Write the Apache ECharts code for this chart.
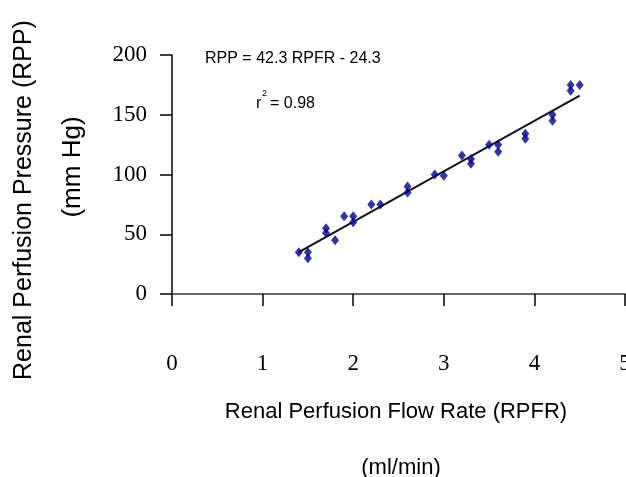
<!DOCTYPE html>
<html>
<head>
<meta charset="utf-8">
<script src="https://cdn.jsdelivr.net/npm/echarts@6/dist/echarts.min.js"></script>
<style>
  html, body { margin: 0; padding: 0; background: #fff; overflow: hidden; }
  #chart { width: 626px; height: 477px; }
</style>
</head>
<body>
<div id="chart"></div>
<script>
// flow rate (ml/min) vs pressure (mm Hg)
const flowRate = [1.4, 1.5, 1.5, 1.7, 1.7, 1.8, 1.9, 2.0, 2.0, 2.2, 2.3, 2.6, 2.6, 2.9, 3.0,
  3.2, 3.3, 3.3, 3.5, 3.6, 3.6, 3.9, 3.9, 4.2, 4.2, 4.4, 4.4, 4.5];
const pressure = [35, 35, 30, 55, 51, 45, 65, 65, 60, 75, 75, 90, 85, 100, 99,
  116, 113, 109, 125, 125, 119, 134, 130, 150, 145, 175, 170, 175];
// ends of the drawn fit line
const fitX = [1.4, 4.5];
const fitY = [35, 166];
const xTicks = [0, 1, 2, 3, 4, 5];
const yTicks = [0, 50, 100, 150, 200];

const points = flowRate.map((x, i) => [x, pressure[i]]);
const fitLine = fitX.map((x, i) => [x, fitY[i]]);

const chart = echarts.init(document.getElementById('chart'));

const sans = '"Liberation Sans", Arial, sans-serif';
const serif = '"Liberation Serif", "Times New Roman", serif';

const option = {
  backgroundColor: '#fff',
  animation: false,
  grid: {
    left: 172,
    width: 453,
    top: 55,
    height: 239,
    containLabel: false,
    outerBoundsMode: 'none'
  },
  xAxis: {
    type: 'value',
    min: xTicks[0],
    max: xTicks[xTicks.length - 1],
    interval: 1,
    splitLine: { show: false },
    axisLine: { show: true, lineStyle: { color: '#666', width: 2 } },
    axisTick: { show: true, length: 12, lineStyle: { color: '#000', width: 1.5 } },
    axisLabel: {
      margin: 58,
      color: '#000',
      fontFamily: serif,
      fontSize: 23,
      showMaxLabel: true,
      hideOverlap: false
    }
  },
  yAxis: {
    type: 'value',
    min: yTicks[0],
    max: yTicks[yTicks.length - 1],
    interval: 50,
    splitLine: { show: false },
    axisLine: { show: true, lineStyle: { color: '#000', width: 1.5 } },
    axisTick: { show: true, length: 12, lineStyle: { color: '#000', width: 1.5 } },
    axisLabel: {
      margin: 25,
      color: '#000',
      fontFamily: serif,
      fontSize: 23
    }
  },
  series: [
    {
      type: 'line',
      data: fitLine,
      symbol: 'none',
      lineStyle: { color: '#111', width: 2 },
      z: 2
    },
    {
      type: 'scatter',
      data: points,
      symbol: 'diamond',
      symbolSize: [8, 10],
      itemStyle: { color: '#00008b' },
      z: 3
    }
  ],
  graphic: [
    {
      type: 'text',
      left: 205,
      top: 51,
      style: { text: 'RPP = 42.3 RPFR - 24.3', font: '16px ' + sans, fill: '#000' }
    },
    {
      type: 'text',
      left: 256,
      top: 96,
      style: { text: 'r', font: '16px ' + sans, fill: '#000' }
    },
    {
      type: 'text',
      left: 262,
      top: 89,
      style: { text: '2', font: '9px ' + sans, fill: '#000' }
    },
    {
      type: 'text',
      left: 270,
      top: 96,
      style: { text: '= 0.98', font: '16px ' + sans, fill: '#000' }
    },
    {
      type: 'text',
      x: 24,
      y: 200,
      rotation: Math.PI / 2,
      style: {
        text: 'Renal Perfusion Pressure (RPP)',
        font: '25px ' + sans,
        fill: '#000',
        align: 'center',
        verticalAlign: 'middle'
      }
    },
    {
      type: 'text',
      x: 73,
      y: 167,
      rotation: Math.PI / 2,
      style: {
        text: '(mm Hg)',
        font: '26px ' + sans,
        fill: '#000',
        align: 'center',
        verticalAlign: 'middle'
      }
    },
    {
      type: 'text',
      x: 396,
      y: 412,
      style: {
        text: 'Renal Perfusion Flow Rate (RPFR)',
        font: '22px ' + sans,
        fill: '#000',
        align: 'center',
        verticalAlign: 'middle'
      }
    },
    {
      type: 'text',
      x: 401,
      y: 468,
      style: {
        text: '(ml/min)',
        font: '22px ' + sans,
        fill: '#000',
        align: 'center',
        verticalAlign: 'middle'
      }
    }
  ]
};

chart.setOption(option);
</script>
</body>
</html>
